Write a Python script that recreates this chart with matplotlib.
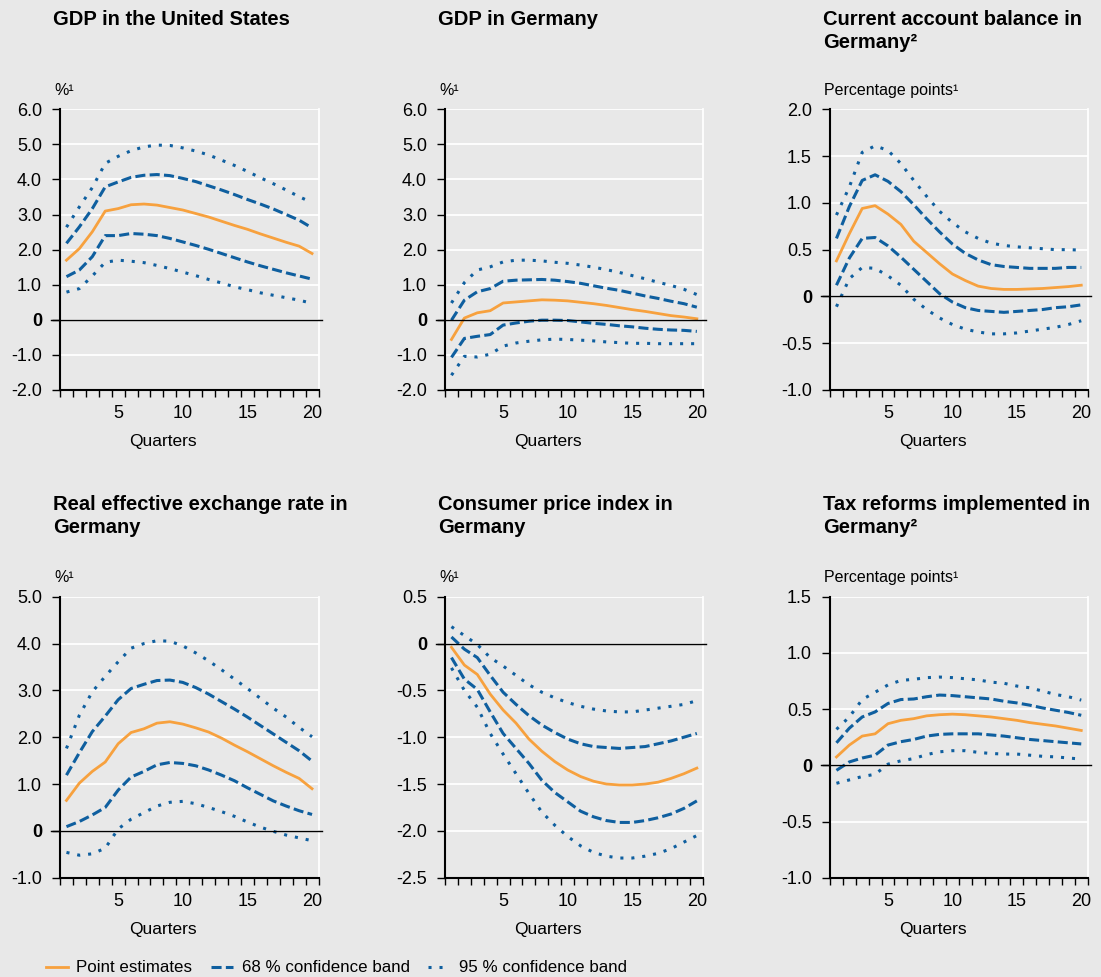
import numpy as np
import matplotlib
matplotlib.use("Agg")
import matplotlib.pyplot as plt
from matplotlib.lines import Line2D

plt.rcParams['font.family'] = ['Liberation Sans', 'DejaVu Sans']
plt.rcParams['axes.unicode_minus'] = False

quarters = np.arange(1, 21)

titles = ["GDP in the United States", "GDP in Germany",
          "Current account balance in\nGermany\u00b2",
          "Real effective exchange rate in\nGermany", "Consumer price index in\nGermany",
          "Tax reforms implemented in\nGermany\u00b2"]
units = ["%\u00b9", "%\u00b9", "Percentage points\u00b9",
         "%\u00b9", "%\u00b9", "Percentage points\u00b9"]
ylims = [(-2, 6), (-2, 6), (-1, 2), (-1, 5), (-2.5, 0.5), (-1, 1.5)]
ysteps = [1.0, 1.0, 0.5, 1.0, 0.5, 0.5]

# GDP United States
us_pt = [1.70, 2.03, 2.51, 3.10, 3.17, 3.28, 3.30, 3.27, 3.20, 3.13,
         3.03, 2.93, 2.81, 2.69, 2.58, 2.45, 2.33, 2.21, 2.10, 1.89]
us_hi68 = [2.18, 2.65, 3.17, 3.79, 3.93, 4.06, 4.12, 4.14, 4.11, 4.03,
           3.94, 3.82, 3.70, 3.57, 3.43, 3.30, 3.16, 3.00, 2.84, 2.62]
us_lo68 = [1.23, 1.42, 1.80, 2.40, 2.40, 2.46, 2.44, 2.40, 2.32, 2.22,
           2.12, 2.01, 1.89, 1.77, 1.65, 1.54, 1.44, 1.34, 1.25, 1.16]
us_hi95 = [2.64, 3.22, 3.77, 4.46, 4.66, 4.82, 4.93, 4.98, 4.97, 4.90,
           4.81, 4.70, 4.55, 4.40, 4.23, 4.05, 3.88, 3.70, 3.51, 3.34]
us_lo95 = [0.79, 0.89, 1.25, 1.64, 1.70, 1.67, 1.63, 1.55, 1.46, 1.36,
           1.26, 1.15, 1.05, 0.94, 0.86, 0.77, 0.70, 0.63, 0.56, 0.47]

# GDP Germany
de_pt = [-0.56, 0.05, 0.20, 0.26, 0.48, 0.51, 0.54, 0.57, 0.56, 0.54,
         0.50, 0.46, 0.41, 0.35, 0.29, 0.24, 0.18, 0.12, 0.08, 0.03]
de_hi68 = [-0.01, 0.56, 0.80, 0.89, 1.10, 1.13, 1.14, 1.15, 1.13, 1.09,
           1.04, 0.97, 0.90, 0.84, 0.76, 0.68, 0.61, 0.53, 0.46, 0.36]
de_lo68 = [-1.07, -0.53, -0.47, -0.42, -0.15, -0.09, -0.04, -0.01, -0.01, -0.02,
           -0.06, -0.10, -0.13, -0.17, -0.20, -0.24, -0.27, -0.29, -0.30, -0.33]
de_hi95 = [0.48, 1.06, 1.42, 1.51, 1.65, 1.70, 1.70, 1.68, 1.64, 1.61,
           1.56, 1.50, 1.43, 1.35, 1.26, 1.17, 1.07, 0.98, 0.87, 0.72]
de_lo95 = [-1.58, -1.04, -1.06, -0.98, -0.75, -0.66, -0.61, -0.57, -0.55, -0.56,
           -0.58, -0.60, -0.63, -0.65, -0.67, -0.67, -0.68, -0.68, -0.68, -0.68]

# Current account balance
ca_pt = [0.38, 0.67, 0.94, 0.97, 0.88, 0.77, 0.59, 0.47, 0.35, 0.24,
         0.17, 0.11, 0.085, 0.075, 0.075, 0.08, 0.085, 0.095, 0.105, 0.12]
ca_hi68 = [0.62, 0.96, 1.24, 1.30, 1.23, 1.12, 0.98, 0.83, 0.69, 0.56,
           0.46, 0.39, 0.34, 0.32, 0.31, 0.30, 0.30, 0.30, 0.31, 0.31]
ca_lo68 = [0.12, 0.41, 0.62, 0.63, 0.54, 0.42, 0.29, 0.16, 0.03, -0.06,
           -0.12, -0.15, -0.16, -0.17, -0.16, -0.15, -0.14, -0.12, -0.11, -0.09]
ca_hi95 = [0.87, 1.17, 1.54, 1.61, 1.56, 1.42, 1.24, 1.07, 0.91, 0.79,
           0.69, 0.62, 0.57, 0.545, 0.53, 0.52, 0.51, 0.50, 0.50, 0.495]
ca_lo95 = [-0.11, 0.19, 0.31, 0.30, 0.22, 0.12, -0.03, -0.14, -0.23, -0.30,
           -0.35, -0.38, -0.40, -0.40, -0.39, -0.37, -0.35, -0.33, -0.30, -0.26]

# Real effective exchange rate
rer_pt = [0.65, 1.02, 1.27, 1.47, 1.86, 2.10, 2.18, 2.30, 2.33, 2.28,
          2.20, 2.11, 1.98, 1.83, 1.69, 1.54, 1.39, 1.25, 1.12, 0.90]
rer_hi68 = [1.19, 1.67, 2.12, 2.45, 2.80, 3.04, 3.13, 3.21, 3.22, 3.17,
            3.06, 2.92, 2.76, 2.60, 2.43, 2.25, 2.07, 1.89, 1.71, 1.49]
rer_lo68 = [0.09, 0.20, 0.34, 0.50, 0.87, 1.15, 1.27, 1.41, 1.46, 1.44,
            1.39, 1.30, 1.19, 1.07, 0.92, 0.78, 0.64, 0.53, 0.43, 0.35]
rer_hi95 = [1.76, 2.47, 2.97, 3.30, 3.61, 3.90, 4.00, 4.06, 4.05, 3.95,
            3.80, 3.63, 3.44, 3.24, 3.04, 2.83, 2.62, 2.43, 2.21, 2.01]
rer_lo95 = [-0.46, -0.52, -0.49, -0.37, 0.04, 0.25, 0.39, 0.53, 0.61, 0.63,
            0.58, 0.50, 0.41, 0.31, 0.19, 0.08, -0.01, -0.09, -0.15, -0.21]

# Consumer price index
cpi_pt = [-0.04, -0.23, -0.33, -0.54, -0.71, -0.85, -1.02, -1.15, -1.26, -1.35,
          -1.42, -1.47, -1.50, -1.51, -1.51, -1.50, -1.48, -1.44, -1.39, -1.33]
cpi_hi68 = [0.07, -0.06, -0.15, -0.34, -0.52, -0.65, -0.77, -0.87, -0.95, -1.02,
            -1.07, -1.10, -1.11, -1.12, -1.11, -1.10, -1.07, -1.04, -1.00, -0.96]
cpi_lo68 = [-0.15, -0.38, -0.49, -0.73, -0.96, -1.12, -1.28, -1.46, -1.59, -1.69,
            -1.79, -1.85, -1.89, -1.91, -1.91, -1.89, -1.86, -1.82, -1.76, -1.68]
cpi_hi95 = [0.18, 0.085, -0.01, -0.15, -0.24, -0.34, -0.44, -0.52, -0.58, -0.63,
            -0.67, -0.70, -0.72, -0.73, -0.73, -0.71, -0.69, -0.67, -0.65, -0.61]
cpi_lo95 = [-0.26, -0.50, -0.68, -0.96, -1.18, -1.39, -1.60, -1.80, -1.94, -2.06,
            -2.16, -2.23, -2.27, -2.29, -2.29, -2.27, -2.24, -2.19, -2.12, -2.05]

# Tax reforms
tax_pt = [0.074, 0.18, 0.26, 0.28, 0.37, 0.40, 0.415, 0.44, 0.45, 0.455,
          0.45, 0.44, 0.43, 0.415, 0.40, 0.38, 0.365, 0.35, 0.33, 0.31]
tax_hi68 = [0.20, 0.33, 0.43, 0.475, 0.55, 0.585, 0.59, 0.61, 0.625, 0.62,
            0.61, 0.60, 0.59, 0.57, 0.555, 0.535, 0.51, 0.49, 0.47, 0.445]
tax_lo68 = [-0.045, 0.03, 0.065, 0.09, 0.18, 0.21, 0.23, 0.26, 0.275, 0.28,
            0.28, 0.28, 0.27, 0.26, 0.245, 0.23, 0.22, 0.21, 0.20, 0.19]
tax_hi95 = [0.32, 0.43, 0.585, 0.65, 0.715, 0.755, 0.765, 0.78, 0.785, 0.78,
            0.77, 0.76, 0.74, 0.73, 0.705, 0.69, 0.66, 0.63, 0.61, 0.58]
tax_lo95 = [-0.16, -0.13, -0.10, -0.08, 0.01, 0.04, 0.06, 0.095, 0.12, 0.13,
            0.13, 0.115, 0.105, 0.10, 0.10, 0.09, 0.08, 0.075, 0.065, 0.055]

panels = [
    (us_pt, us_hi68, us_lo68, us_hi95, us_lo95),
    (de_pt, de_hi68, de_lo68, de_hi95, de_lo95),
    (ca_pt, ca_hi68, ca_lo68, ca_hi95, ca_lo95),
    (rer_pt, rer_hi68, rer_lo68, rer_hi95, rer_lo95),
    (cpi_pt, cpi_hi68, cpi_lo68, cpi_hi95, cpi_lo95),
    (tax_pt, tax_hi68, tax_lo68, tax_hi95, tax_lo95),
]

bg = '#e8e8e8'
orange = '#f7a13e'
blue = '#0f5f9f'
dash68 = (0, (3.3, 1.4))
dot95 = (0, (1, 2.6))

W, H = 1101, 977
fig = plt.figure(figsize=(W / 100, H / 100), dpi=100, facecolor=bg)

# axes boxes in pixels: left, top, right, bottom
lefts = [60, 445, 830]
rights = [318.5, 703.3, 1087.7]
tops = [109.3, 596.7]
bottoms = [390, 877.7]
title_y = [10, 495]

for i, (pt, hi68, lo68, hi95, lo95) in enumerate(panels):
    r, c = divmod(i, 3)
    l, rr, t, b = lefts[c], rights[c], tops[r], bottoms[r]
    ax = fig.add_axes([l / W, 1 - b / H, (rr - l) / W, (b - t) / H])
    ax.set_facecolor(bg)

    ax.plot(quarters, hi95, color=blue, lw=2.2, linestyle=dot95, zorder=3)
    ax.plot(quarters, lo95, color=blue, lw=2.2, linestyle=dot95, zorder=3)
    ax.plot(quarters, hi68, color=blue, lw=2.2, linestyle=dash68, zorder=3)
    ax.plot(quarters, lo68, color=blue, lw=2.2, linestyle=dash68, zorder=3)
    ax.plot(quarters, pt, color=orange, lw=2.0, zorder=4)

    lo, hi = ylims[i]
    ax.set_xlim(0.5, 20.5)
    ax.set_ylim(lo, hi)
    yt = np.round(np.arange(lo, hi + 1e-9, ysteps[i]), 2)
    ax.set_yticks(yt)
    ax.set_yticklabels(['0' if v == 0 else f'{v:.1f}' for v in yt])
    for lab, v in zip(ax.get_yticklabels(), yt):
        if v == 0:
            lab.set_fontweight('bold')
    ax.tick_params(axis='y', direction='out', length=6, width=1, labelsize=13,
                   pad=7, colors='black')

    ax.set_xticks([5, 10, 15, 20])
    ax.set_xticks(np.arange(0.5, 21, 1), minor=True)
    ax.tick_params(axis='x', which='major', length=0, labelsize=13, pad=11)
    ax.tick_params(axis='x', which='minor', direction='out', length=5, width=1)

    ax.grid(axis='y', color='white', lw=1.3, zorder=0)
    ax.set_axisbelow(True)
    ax.spines['top'].set_visible(False)
    ax.spines['right'].set_color('white')
    ax.spines['right'].set_linewidth(1.3)
    ax.spines['left'].set_linewidth(1.5)
    ax.spines['bottom'].set_linewidth(1.5)

    ax.plot([-0.035, 1.012], [0, 0], color='black', lw=1.0,
            transform=ax.get_yaxis_transform(), clip_on=False, zorder=5)

    fig.text((l - 7) / W, 1 - title_y[r] / H, titles[i], fontsize=14.5,
             fontweight='bold', va='top', ha='left', linespacing=1.25)
    fig.text((l - 6) / W, 1 - (t - 19) / H, units[i], fontsize=11.5,
             va='center', ha='left')
    fig.text((l + 103) / W, 1 - (b + 52) / H, "Quarters", fontsize=12.5,
             va='center', ha='center')

handles = [Line2D([], [], color=orange, lw=2.0),
           Line2D([], [], color=blue, lw=2.2, linestyle=dash68),
           Line2D([], [], color=blue, lw=2.2, linestyle=dot95)]
labels = ["Point estimates", "68 % confidence band", "95 % confidence band"]
fig.legend(handles, labels, loc='center left', bbox_to_anchor=(46 / W, 1 - 968 / H),
           ncol=3, frameon=False, fontsize=12.2, handlelength=1.3, handletextpad=0.5,
           columnspacing=1.1, borderpad=0, borderaxespad=0)

fig.savefig('out.png', dpi=100, facecolor=bg)
